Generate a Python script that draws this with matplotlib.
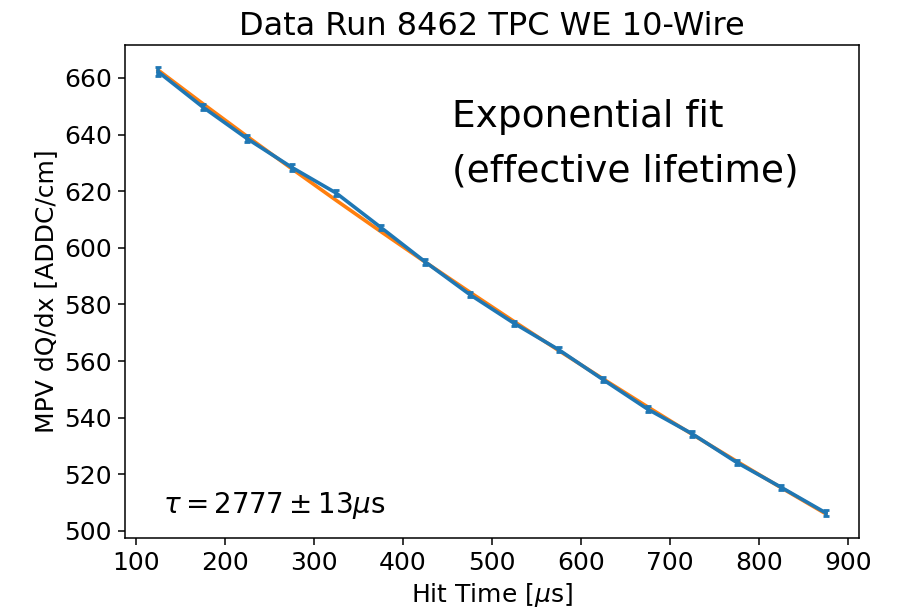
# Electron lifetime plot: MPV dQ/dx vs hit time with exponential fit
import matplotlib.pyplot as plt
import numpy as np

hit_time = [125, 175, 225, 275, 325, 375, 425, 475,
            525, 575, 625, 675, 725, 775, 825, 875]
mpv_dqdx = [662.1, 649.7, 638.5, 628.4, 619.3, 607.2, 595.0, 583.5,
            573.3, 564.0, 553.4, 543.0, 534.3, 524.2, 515.4, 506.4]
mpv_err = [1.6, 1.0, 1.2, 1.2, 1.0, 0.8, 1.0, 1.0,
           1.0, 0.8, 0.8, 1.0, 1.0, 0.8, 0.8, 1.0]

x = np.array(hit_time, dtype=float)
y = np.array(mpv_dqdx)
# exponential fit: log(y) = log(A) - t/tau
slope, intercept = np.polyfit(x, np.log(y), 1)
y_fit = np.exp(intercept + slope * x)

plt.rcParams['font.size'] = 18
plt.rcParams['axes.linewidth'] = 1.1
for axis in ('xtick', 'ytick'):
    plt.rcParams[axis + '.major.size'] = 4.7
    plt.rcParams[axis + '.major.pad'] = 4.7
    plt.rcParams[axis + '.major.width'] = 1.1

fig = plt.figure(figsize=(8.99, 6.13), dpi=100)
ax = fig.add_axes([0.139, 0.1223, 0.8165, 0.8043])

ax.plot(x, y_fit, color='C1', linewidth=2.6)
ax.errorbar(x, y, yerr=mpv_err, color='C0', linewidth=2.6,
            elinewidth=2.6, capsize=2, capthick=2)

ax.set_title('Data Run 8462 TPC WE 10-Wire', fontsize=23, pad=7)
ax.set_xlabel(r'Hit Time [$\mu$s]')
ax.set_ylabel('MPV dQ/dx [ADDC/cm]')
ax.set_xticks(np.arange(100, 901, 100))
ax.set_yticks(np.arange(500, 661, 20))

ax.text(0.052, 0.05, r'$\tau = 2777 \pm 13 \mu$s', transform=ax.transAxes,
        fontsize=20)

# annotation added on top of the plot
fig.text(452 / 899, 1 - 126.7 / 613, 'Exponential fit',
         family='DejaVu Sans', fontsize=27, va='baseline')
fig.text(452 / 899, 1 - 181.7 / 613, '(effective lifetime)',
         family='DejaVu Sans', fontsize=27, va='baseline')

fig.savefig('out.png', dpi=100)
